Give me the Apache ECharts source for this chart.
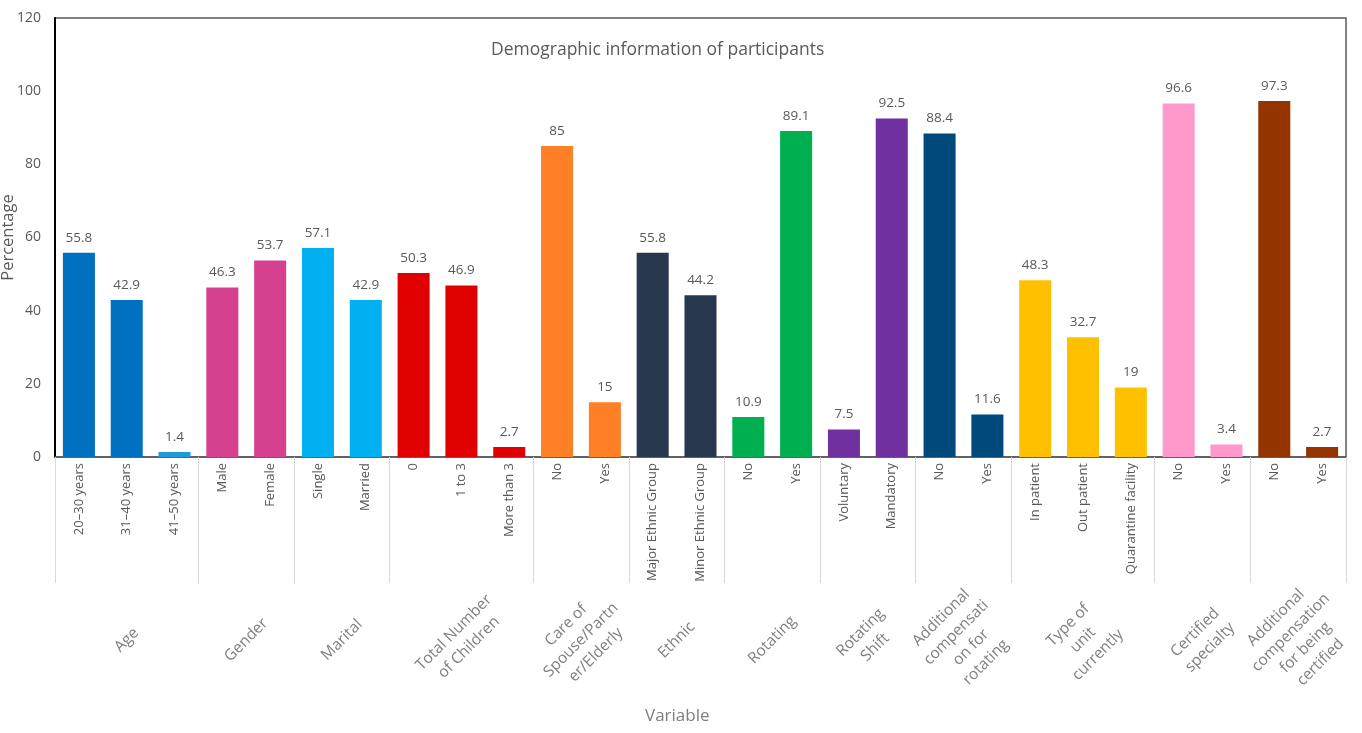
<!DOCTYPE html>
<html>
<head>
<meta charset="utf-8">
<script src="https://cdn.jsdelivr.net/npm/echarts@6/dist/echarts.min.js"></script>
<style>html,body{margin:0;padding:0;background:#fff}#c{width:1362px;height:733px}</style>
</head>
<body>
<div id="c"></div>
<script>
const categories = ['20\u201330 years','31\u201340 years','41\u201350 years','Male','Female','Single','Married','0','1 to 3','More than 3','No','Yes','Major Ethnic Group','Minor Ethnic Group','No','Yes','Voluntary','Mandatory','No','Yes','In patient','Out patient','Quarantine facility','No','Yes','No','Yes'];
const values = [55.8,42.9,1.4,46.3,53.7,57.1,42.9,50.3,46.9,2.7,85,15,55.8,44.2,10.9,89.1,7.5,92.5,88.4,11.6,48.3,32.7,19,96.6,3.4,97.3,2.7];
const barColors = ['#0070C0','#0070C0','#1E9AD8','#D5418E','#D5418E','#00B0F0','#00B0F0','#E00000','#E00000','#E00000','#FF7F27','#FF7F27','#27384F','#27384F','#00B050','#00B050','#7030A0','#7030A0','#00497A','#00497A','#FFC000','#FFC000','#FFC000','#FF99CC','#FF99CC','#943500','#943500'];
const groupNames = ['Age','Gender','Marital','Total Number\nof Children','Care of\nSpouse/Partn\ner/Elderly','Ethnic','Rotating','Rotating\nShift','Additional\ncompensati\non for\nrotating','Type of\nunit\ncurrently','Certified\nspecialty','Additional\ncompensation\nfor being\ncertified'];
const groupSizes = [3,2,2,3,2,2,2,2,2,3,2,2];
const yTicks = [0,20,40,60,80,100,120];

const bounds = [0];
groupSizes.forEach(s => bounds.push(bounds[bounds.length-1] + s));
const centers = groupSizes.map((s,i) => bounds[i] + s/2);

const chart = echarts.init(document.getElementById('c'));
const font = '"Open Sans", "Noto Sans", sans-serif';
chart.setOption({
  animation: false,
  textStyle: {fontFamily: font},
  title: {
    text: 'Demographic information of participants',
    left: 486, top: 36,
    textStyle: {fontSize: 17.5, fontWeight: 'normal', color: '#595959', fontFamily: font}
  },
  grid: {left: 55, right: 16, top: 18, bottom: 276, show: true, borderColor: '#595959', borderWidth: 1.5, containLabel: false, outerBoundsMode: 'none'},
  graphic: [{
    type: 'text', left: 645, top: 708,
    style: {text: 'Variable', fontSize: 17, fill: '#7f7f7f', fontFamily: font}
  }],
  xAxis: [{
    type: 'category',
    data: categories,
    axisLine: {lineStyle: {color: '#595959', width: 1.5}},
    axisTick: {show: false},
    axisLabel: {interval: 0, rotate: 90, fontSize: 13, color: '#595959', margin: 6, fontFamily: font}
  }, {
    type: 'value', min: 0, max: bounds[bounds.length-1], gridIndex: 0, position: 'bottom',
    axisLine: {show: false},
    splitLine: {show: false},
    axisTick: {show: true, customValues: bounds, length: 126, lineStyle: {color: '#d9d9d9', width: 1}},
    axisLabel: {
      customValues: centers, rotate: 45, margin: 183, fontSize: 15.5, lineHeight: 21,
      align: 'center', verticalAlign: 'middle', color: '#7f7f7f', fontFamily: font,
      formatter: v => { const i = centers.findIndex(c => Math.abs(c - v) < 1e-6); return i >= 0 ? groupNames[i] : ''; }
    }
  }],
  yAxis: {
    type: 'value', min: 0, max: 120, interval: 20,
    name: 'Percentage', nameLocation: 'middle', nameGap: 38, nameMoveOverlap: false,
    nameTextStyle: {fontSize: 16.5, color: '#595959', fontFamily: font},
    axisLine: {show: true, lineStyle: {color: '#000', width: 2}},
    axisTick: {show: false},
    splitLine: {show: false},
    axisLabel: {fontSize: 14, color: '#595959', margin: 14, fontFamily: font, customValues: yTicks}
  },
  series: [{
    type: 'bar',
    xAxisIndex: 0,
    data: values.map((v,i) => ({value: v, itemStyle: {color: barColors[i]}})),
    barCategoryGap: '33%',
    label: {show: true, position: 'top', distance: 8, fontSize: 13.5, color: '#595959', fontFamily: font}
  }]
});
</script>
</body>
</html>
